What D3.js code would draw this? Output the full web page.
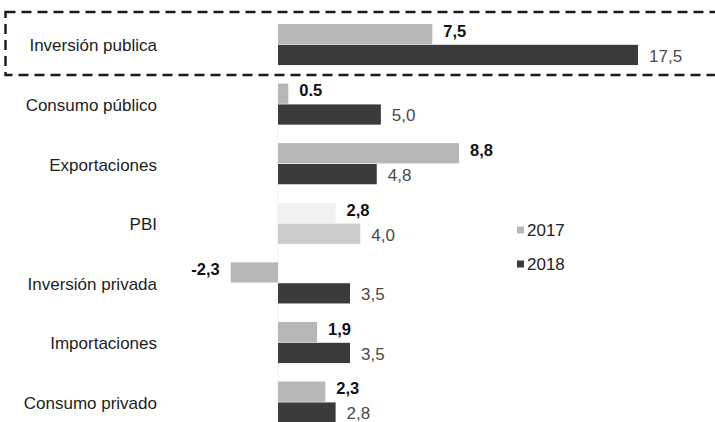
<!DOCTYPE html>
<html>
<head>
<meta charset="utf-8" />
<style>
  body { margin: 0; background: #fff; }
  svg { font-family: "Liberation Sans", Arial, sans-serif; }
  .cat { font-size: 17px; fill: #1e1e1e; }
  .v17 { font-size: 16.5px; font-weight: bold; fill: #111; }
  .v18 { font-size: 17px; fill: #4a4a4a; }
  .legend { font-size: 17px; fill: #222; }
</style>
</head>
<body>
<div id="chart"></div>
<script src="https://cdn.jsdelivr.net/npm/d3@7"></script>
<script>
var categories = ["Inversión publica", "Consumo público", "Exportaciones", "PBI",
                  "Inversión privada", "Importaciones", "Consumo privado"];
var series = ["2017", "2018"];
var values2017 = [7.5, 0.5, 8.8, 2.8, -2.3, 1.9, 2.3];
var values2018 = [17.5, 5.0, 4.8, 4.0, 3.5, 3.5, 2.8];
var labels2017 = ["7,5", "0.5", "8,8", "2,8", "-2,3", "1,9", "2,3"];
var labels2018 = ["17,5", "5,0", "4,8", "4,0", "3,5", "3,5", "2,8"];

var width = 715, height = 422;

var svg = d3.select('#chart').append('svg')
  .attr('width', width)
  .attr('height', height);

var x = d3.scaleLinear().domain([0, 17.5]).range([278, 638]);

var y = d3.scaleBand()
  .domain(categories)
  .range([14.7, 14.7 + 7 * 59.6])
  .paddingInner(0.31)
  .paddingOuter(0.155);

var ySub = d3.scaleBand()
  .domain(series)
  .range([0, y.bandwidth()])
  .paddingInner(0.03);

var color = { "2017": "#b7b7b7", "2018": "#3b3b3b" };
var pbiColor = { "2017": "#f1f1f1", "2018": "#cbcbcb" };

var rows = categories.map(function(c, i) {
  return { cat: c, v: [values2017[i], values2018[i]], l: [labels2017[i], labels2018[i]] };
});

// faint zero line
svg.append('line')
  .attr('x1', x(0)).attr('x2', x(0))
  .attr('y1', 80).attr('y2', height)
  .attr('stroke', '#f0f0f0')
  .attr('stroke-width', 1);

// highlight box around first category
svg.append('rect')
  .attr('x', 5.5)
  .attr('y', 12)
  .attr('width', 740)
  .attr('height', 63)
  .attr('fill', 'none')
  .attr('stroke', '#1a1a1a')
  .attr('stroke-width', 2.4)
  .attr('stroke-dasharray', '10 6');

var g = svg.selectAll('g.row')
  .data(rows)
  .enter().append('g')
  .attr('class', 'row')
  .attr('transform', function(d) { return 'translate(0,' + y(d.cat) + ')'; });

g.append('text')
  .attr('class', 'cat')
  .attr('x', 157)
  .attr('y', y.bandwidth() / 2 + 1)
  .attr('dy', '0.35em')
  .attr('text-anchor', 'end')
  .text(function(d) { return d.cat; });

series.forEach(function(s, k) {
  g.append('rect')
    .attr('x', function(d) { return x(Math.min(0, d.v[k])); })
    .attr('y', ySub(s))
    .attr('width', function(d) { return Math.abs(x(d.v[k]) - x(0)); })
    .attr('height', ySub.bandwidth())
    .attr('fill', function(d) { return d.cat === "PBI" ? pbiColor[s] : color[s]; });

  g.append('text')
    .attr('class', k === 0 ? 'v17' : 'v18')
    .attr('x', function(d) { return d.v[k] < 0 ? x(d.v[k]) - 11 : x(d.v[k]) + 11; })
    .attr('y', ySub(s) + ySub.bandwidth() / 2 + (k === 0 ? -3 : 1))
    .attr('dy', '0.35em')
    .attr('text-anchor', function(d) { return d.v[k] < 0 ? 'end' : 'start'; })
    .text(function(d) { return d.l[k]; });
});

// legend
var legend = svg.selectAll('g.legend')
  .data(series)
  .enter().append('g')
  .attr('transform', function(d, i) { return 'translate(517,' + (230 + i * 34) + ')'; });

legend.append('rect')
  .attr('x', 0).attr('y', -3.5)
  .attr('width', 7).attr('height', 7)
  .attr('fill', function(d) { return color[d]; });

legend.append('text')
  .attr('class', 'legend')
  .attr('x', 10)
  .attr('y', 0)
  .attr('dy', '0.35em')
  .text(function(d) { return d; });
</script>
</body>
</html>
